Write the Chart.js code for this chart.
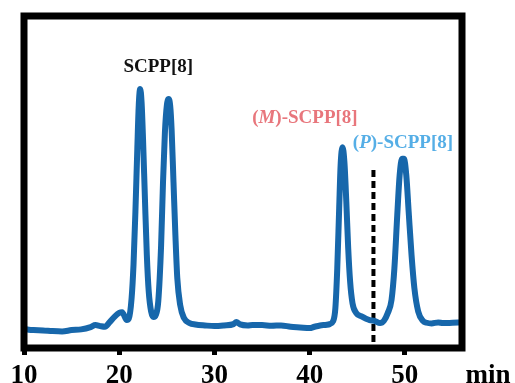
<!DOCTYPE html>
<html lang="en">
<head>
    <meta charset="UTF-8">
    <title>HPLC trace</title>
    <style>
        html, body { margin: 0; padding: 0; background: #fff; overflow: hidden; }
        #wrap { width: 515px; height: 383px; }
    </style>
</head>
<body>
    <div id="wrap">
        <canvas id="myChart"></canvas>
    </div>

    <script src="https://cdn.jsdelivr.net/npm/chart.js"></script>

    <script>
    // retention time (min) and detector signal (arb. units)
    const tempo = [10, 10.5, 11, 12, 13, 14, 15, 16, 17, 17.5, 18, 18.5, 19, 19.5, 20, 20.3, 20.8,
        21.0, 21.3, 21.5, 21.7, 21.9, 22.05, 22.2, 22.35, 22.5, 22.7, 22.9, 23.1, 23.35, 23.6,
        23.85, 24.1, 24.4, 24.6, 24.8, 25.0, 25.2, 25.35, 25.5, 25.7, 25.9, 26.1, 26.4, 26.8, 27.4,
        28, 29, 30, 31, 32, 32.3, 32.7, 33.5, 34, 35, 36, 37, 38, 39, 40, 40.5, 41.1, 41.8,
        42.1, 42.45, 42.7, 42.9, 43.1, 43.25, 43.45, 43.65, 43.85, 44.05, 44.25, 44.5, 44.9, 45.4, 46.3,
        46.8, 47.4, 47.8, 48.2, 48.6, 48.9, 49.2, 49.45, 49.7, 49.9, 50.15, 50.4, 50.7, 51.0,
        51.4, 51.9, 52.3, 52.8, 53.5, 54, 55, 55.9]
    const sinal = [5.7, 5.5, 5.4, 5.3, 5.1, 5.0, 5.4, 5.6, 6.3, 6.9, 6.6, 6.4, 7.8, 9.4, 10.6, 10.8, 8.4,
        8.8, 15, 25, 41, 60, 73, 78, 74, 63, 45, 28, 17, 11, 9.3,
        10, 14, 31, 50, 65, 73, 75, 73, 66, 50, 34, 21, 13, 9, 7.5,
        7.1, 6.8, 6.6, 6.8, 7.2, 7.8, 7.1, 6.8, 6.9, 6.9, 6.7, 6.8, 6.4, 6.2, 6.0, 6.4, 6.8, 7.0,
        7.2, 8, 12, 24, 42, 55, 60.5, 56, 44, 30, 20, 13.5, 10.5, 9.6, 8.4,
        8.2, 7.5, 8.2, 10.5, 14.5, 24, 40, 52, 57, 57, 52, 41, 28, 18,
        11, 8.2, 7.6, 7.4, 7.7, 7.5, 7.6, 7.7]

    // dashed marker line
    const corteX = [46.7, 46.7]
    const corteY = [1.8, 53.6]

    // x ticks
    const ticksX = [10, 20, 30, 40, 50]

    // peak labels
    const rotulos = [
        { partes: [['SCPP[8]', false]], x: 24.1, y: 84.6, cor: '#111111' },
        { partes: [['(', false], ['M', true], [')-SCPP[8]', false]], x: 39.5, y: 69.3, cor: '#e8767c' },
        { partes: [['(', false], ['P', true], [')-SCPP[8]', false]], x: 49.8, y: 61.7, cor: '#55aee6' }
    ]

    const pontos = tempo.map((t, i) => ({ x: t, y: sinal[i] }))
    const corte = corteX.map((t, i) => ({ x: t, y: corteY[i] }))

    const moldura = {
        id: 'moldura',
        afterDatasetsDraw(chart) {
            const c = chart.ctx
            const a = chart.chartArea
            c.save()
            c.strokeStyle = '#000'
            c.lineWidth = 7
            c.strokeRect(a.left, a.top, a.right - a.left, a.bottom - a.top)

            const sx = chart.scales.x
            const sy = chart.scales.y
            rotulos.forEach(r => {
                let total = 0
                r.partes.forEach(p => {
                    c.font = (p[1] ? 'italic ' : '') + 'bold 19px "Liberation Serif"'
                    total += c.measureText(p[0]).width
                })
                let px = sx.getPixelForValue(r.x) - total / 2
                const py = sy.getPixelForValue(r.y)
                c.fillStyle = r.cor
                c.textBaseline = 'middle'
                c.textAlign = 'left'
                r.partes.forEach(p => {
                    c.font = (p[1] ? 'italic ' : '') + 'bold 19px "Liberation Serif"'
                    c.fillText(p[0], px, py)
                    px += c.measureText(p[0]).width
                })
            })

            // axis unit, same line as the tick labels
            c.font = 'bold 27px "Liberation Serif"'
            c.fillStyle = '#000'
            c.textAlign = 'center'
            c.textBaseline = 'top'
            c.fillText('min', 488, a.bottom + 15)
            c.restore()
        }
    }

    new Chart(document.getElementById('myChart'), {
        type: 'line',
        data: {
            datasets: [{
                data: pontos,
                borderColor: '#1767ab',
                borderWidth: 6,
                pointRadius: 0,
                cubicInterpolationMode: 'monotone',
                fill: false
            }, {
                data: corte,
                borderColor: '#000',
                borderWidth: 4,
                borderDash: [7, 4],
                pointRadius: 0,
                fill: false
            }]
        },
        options: {
            responsive: true,
            maintainAspectRatio: false,
            animation: false,
            events: [],
            layout: { padding: { left: 24, right: 53, top: 16, bottom: 0 } },
            plugins: { legend: { display: false }, tooltip: { enabled: false } },
            scales: {
                x: {
                    type: 'linear',
                    min: 10,
                    max: 56,
                    border: { display: false },
                    grid: {
                        drawOnChartArea: false,
                        drawTicks: true,
                        tickLength: 7,
                        tickWidth: 5,
                        color: '#000'
                    },
                    afterBuildTicks(scale) {
                        scale.ticks = ticksX.map(v => ({ value: v }))
                    },
                    afterFit(scale) {
                        scale.height = 35
                    },
                    ticks: {
                        color: '#000',
                        padding: 8,
                        maxRotation: 0,
                        autoSkip: false,
                        font: { family: 'Liberation Serif', weight: 'bold', size: 27, lineHeight: 1 }
                    }
                },
                y: {
                    display: false,
                    min: 0,
                    max: 100
                }
            }
        },
        plugins: [moldura]
    })
    </script>
</body>
</html>
